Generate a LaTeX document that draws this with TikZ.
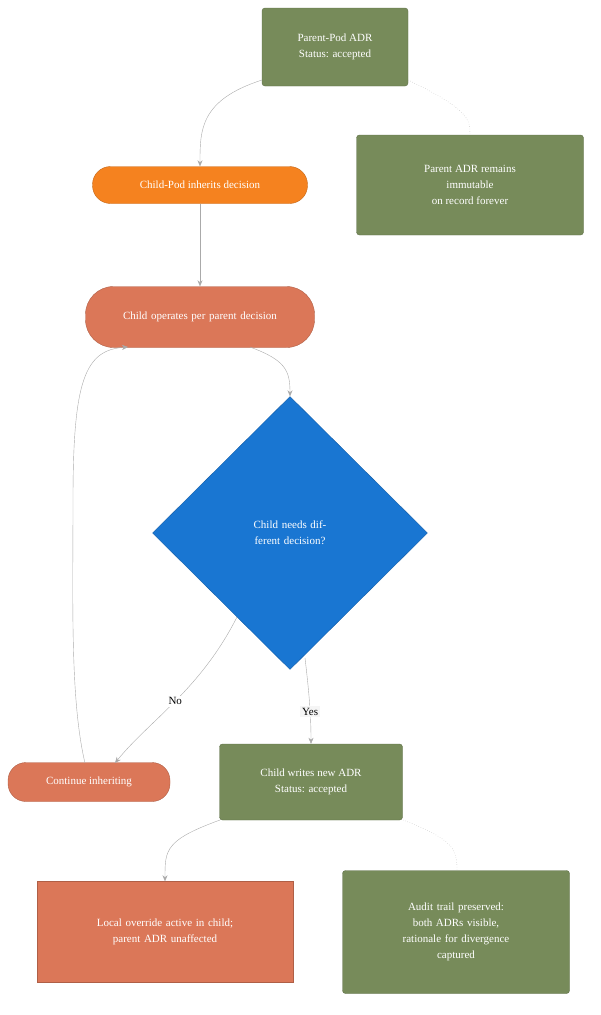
\documentclass[tikz,border=0pt]{standalone}
\usepackage{fontspec}
\setmainfont{Liberation Serif}
\usetikzlibrary{shapes.geometric,arrows.meta}
\definecolor{gr}{HTML}{778B5A}
\definecolor{orng}{HTML}{F5821F}
\definecolor{sal}{HTML}{DB7758}
\definecolor{blu}{HTML}{1976D2}
\definecolor{ln}{HTML}{AAAAAA}
\begin{document}
\begin{tikzpicture}[x=1pt,y=-1pt,
  base/.style={text=white,font=\fontsize{11}{16}\selectfont,align=center,inner sep=0pt},
  box/.style={base,fill=gr,draw=gr!80!black,rounded corners=3pt},
  pill/.style={base,rounded corners=18pt},
  arr/.style={draw=ln,-{Stealth[length=6pt,width=5pt]}},
  dot/.style={draw=ln,dotted}]
\useasboundingbox (0,0) rectangle (600,1015);
\node[box,minimum width=146,minimum height=78] (p) at (335,47) {Parent-Pod ADR\\Status: accepted};
\node[box,minimum width=227,minimum height=100] (pr) at (470,185) {Parent ADR remains\\immutable\\on record forever};
\node[pill,fill=orng,draw=orng!80!black,minimum width=215,minimum height=37] (ci) at (200,185) {Child-Pod inherits decision};
\node[pill,fill=sal,draw=sal!80!black,rounded corners=28pt,minimum width=229,minimum height=61,text width=170] (co) at (200,317) {Child operates per parent decision};
\node[base,diamond,fill=blu,draw=blu!80!black,minimum width=275,minimum height=273,text width=130] (d) at (290,533) {Child needs different decision?};
\node[pill,fill=sal,draw=sal!80!black,minimum width=162,minimum height=39] (cn) at (89,782) {Continue inheriting};
\node[box,minimum width=183,minimum height=76] (cw) at (311,782) {Child writes new ADR\\Status: accepted};
\node[base,fill=sal,draw=sal!80!black,minimum width=256,minimum height=101,text width=180] (lo) at (165,932) {Local override active in child;\\parent ADR unaffected};
\node[box,minimum width=227,minimum height=123,text width=180] (au) at (456,932) {Audit trail preserved:\\both ADRs visible,\\rationale for divergence\\captured};
\coordinate (pa) at (262,80);
\draw[arr] (pa) .. controls (200,100) and (200,130) .. (ci.north);
\draw[dot] (408,80) .. controls (470,110) and (470,120) .. (pr.north);
\draw[arr] (ci) -- (co);
\draw[arr] (250,347) .. controls (285,360) and (290,370) .. (d.north);
\draw[arr] (237,617) .. controls (200,690) and (150,720) .. (115,763) node[pos=0.5,fill=white,text=black,font=\fontsize{11}{13}\selectfont,inner sep=2pt]{No};
\draw[arr] (305,658) .. controls (310,700) and (311,720) .. (cw.north) node[pos=0.55,fill=gray!8,text=black,font=\fontsize{11}{13}\selectfont,inner sep=2pt]{Yes};
\draw[arr] (85,763) .. controls (70,700) and (73,600) .. (73,500) .. controls (73,380) and (85,350) .. (128,347);
\draw[arr] (220,820) .. controls (165,840) and (165,850) .. (lo.north);
\draw[dot] (403,820) .. controls (455,840) and (457,850) .. (457,871);
\end{tikzpicture}
\end{document}
